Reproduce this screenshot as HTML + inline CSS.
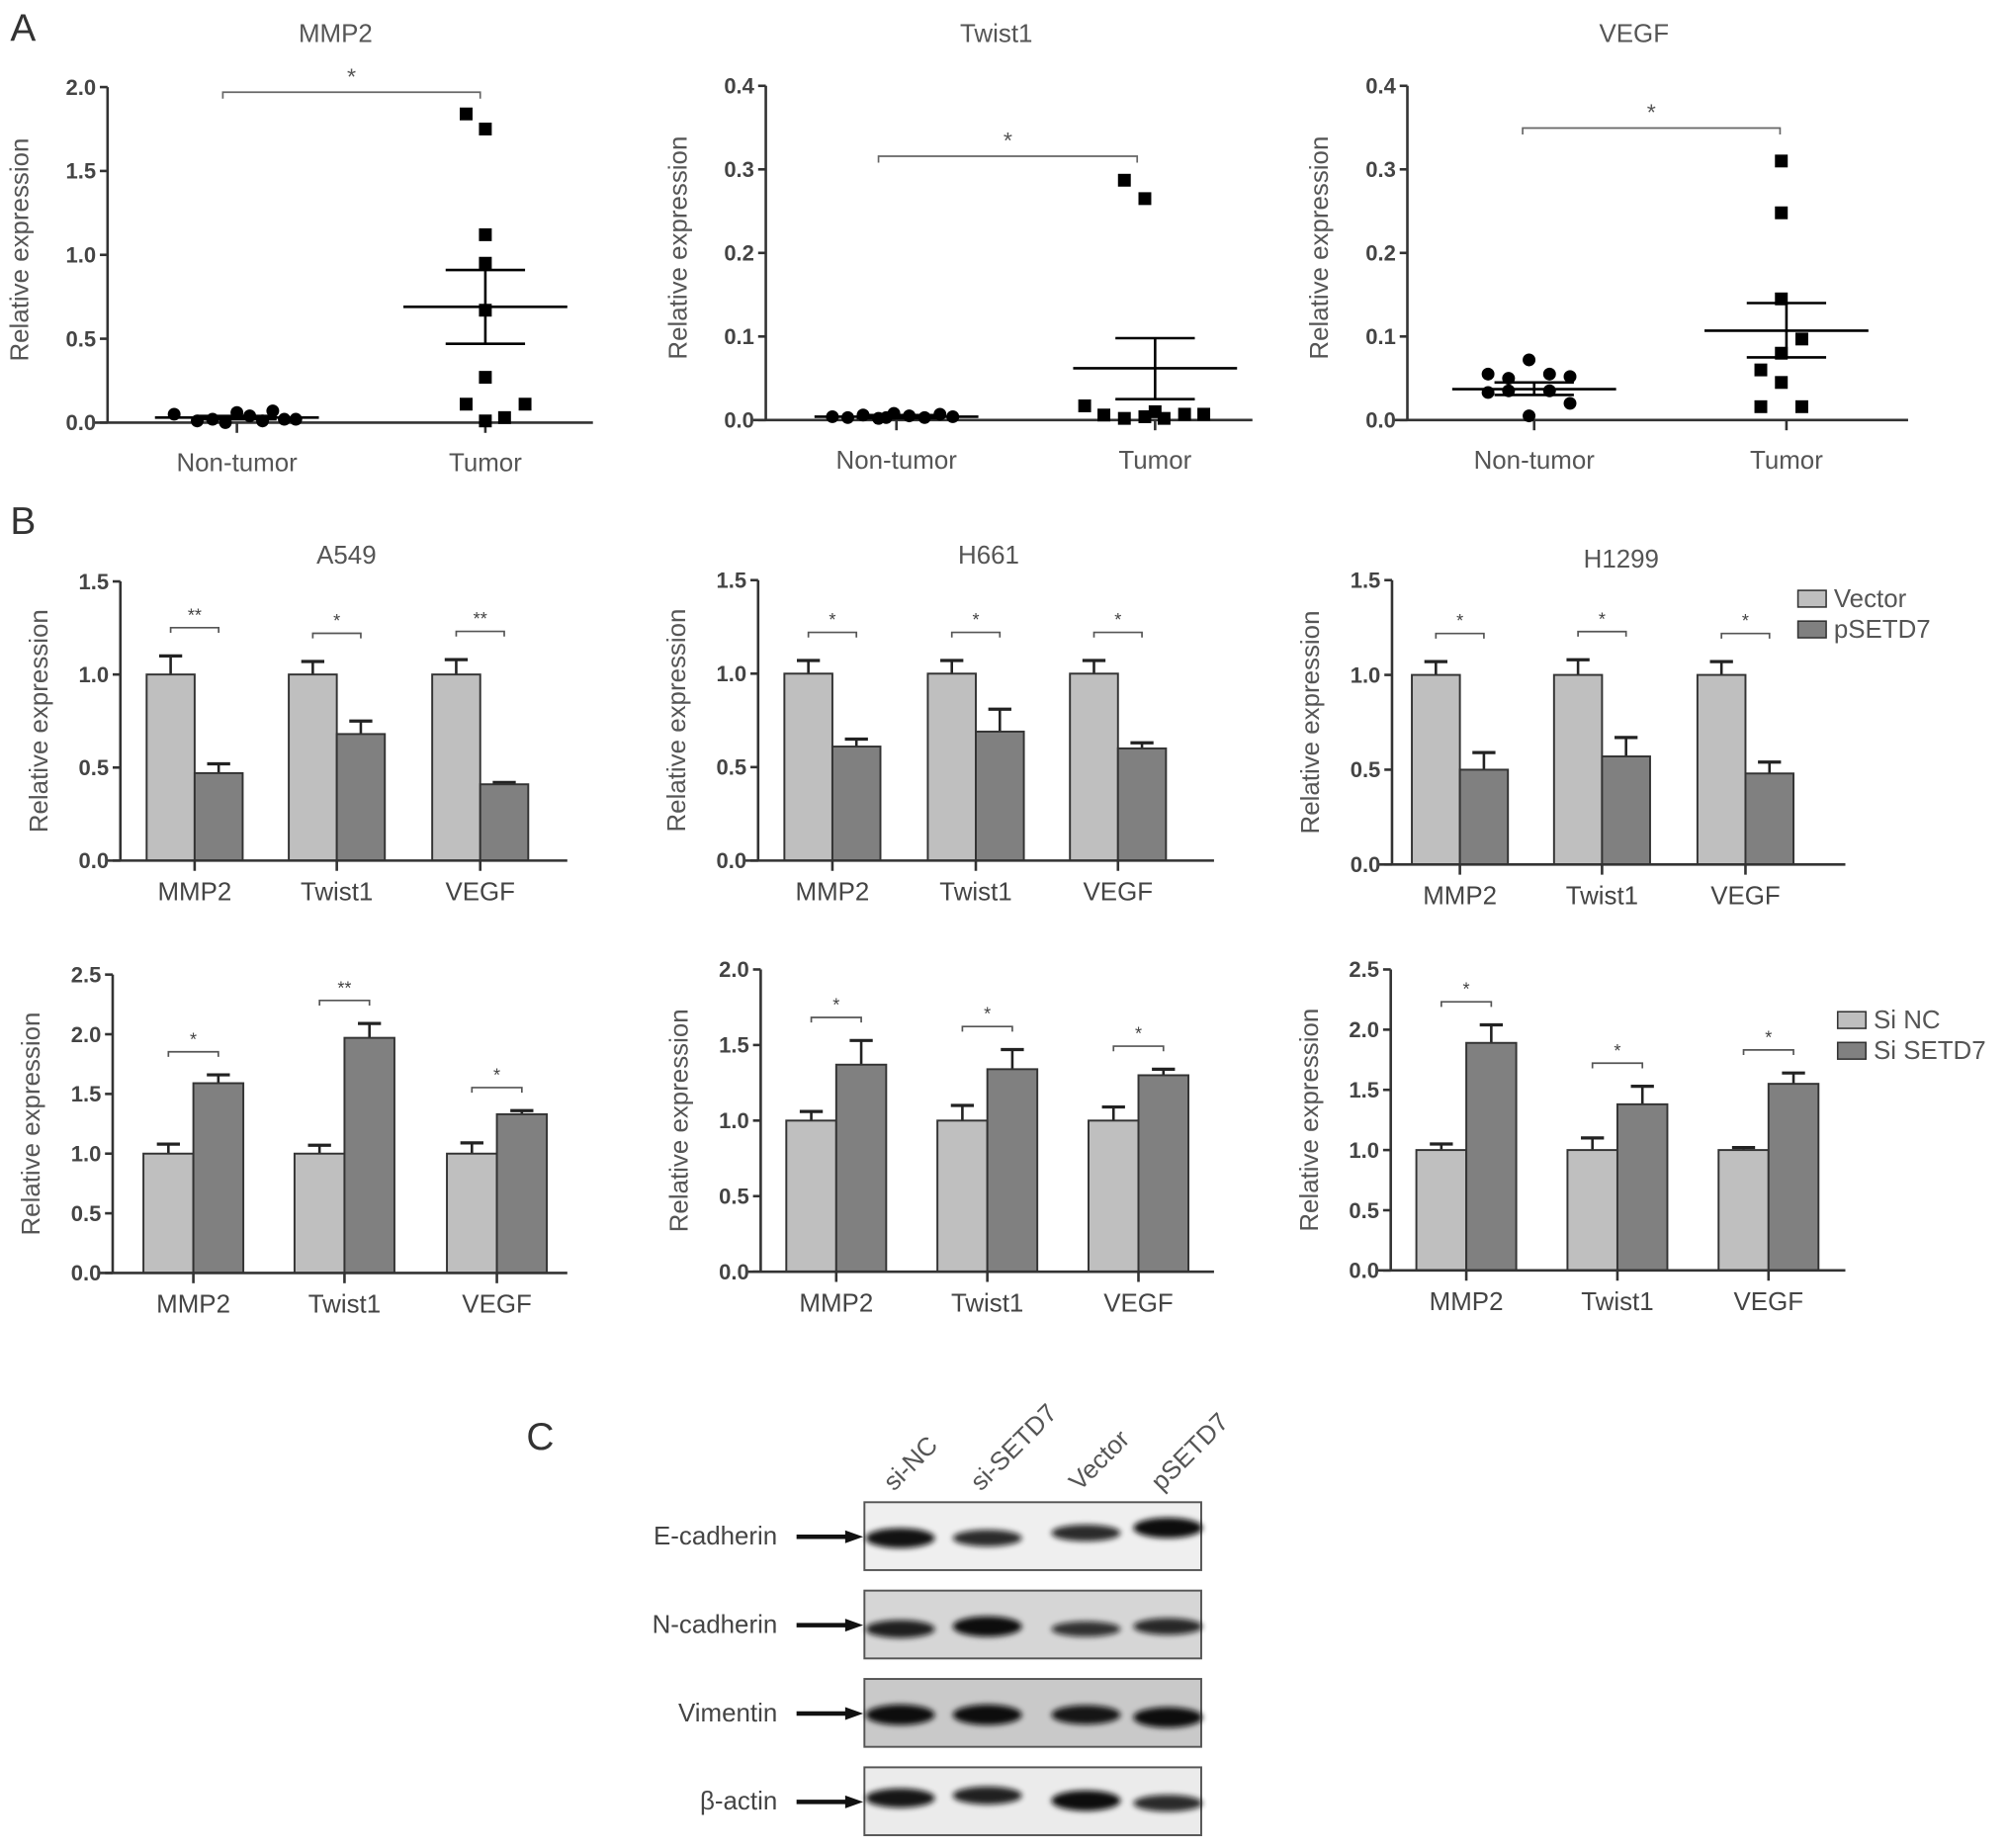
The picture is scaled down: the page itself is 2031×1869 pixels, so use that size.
<!DOCTYPE html>
<html><head><meta charset="utf-8"><style>
html,body{margin:0;padding:0;background:#fff;}
svg{display:block;}
text{font-family:"Liberation Sans",Arial,sans-serif;}
</style></head><body>
<svg id="fig" width="2031" height="1869" viewBox="0 0 1568 1443" preserveAspectRatio="none" xmlns="http://www.w3.org/2000/svg">
<defs><filter id="blur" x="-30%" y="-100%" width="160%" height="300%"><feGaussianBlur stdDeviation="2.2"/></filter></defs>
<text x="8" y="32" font-size="30" fill="#333">A</text>
<text x="8" y="417" font-size="30" fill="#333">B</text>
<text x="411" y="1132" font-size="30" fill="#333">C</text>
<g id="blot"></g>
</svg>
<script>
const NS="http://www.w3.org/2000/svg";
const svg=document.getElementById('fig');
function mk(tag,attrs,parent,txt){const e=document.createElementNS(NS,tag);for(const k in attrs)e.setAttribute(k,attrs[k]);if(txt!==undefined)e.textContent=txt;(parent||svg).appendChild(e);return e;}

// ---------- Panel A data ----------
const aTitles=["MMP2","Twist1","VEGF"];
const aCategories=["Non-tumor","Tumor"];
const aTicks=[["0.0","0.5","1.0","1.5","2.0"],["0.0","0.1","0.2","0.3","0.4"],["0.0","0.1","0.2","0.3","0.4"]];
const aMax=[2.0,0.4,0.4];
const mmp2Normal=[0.05,0.01,0.02,0.0,0.06,0.04,0.01,0.07,0.02,0.02];
const mmp2Tumor=[1.84,1.75,1.12,0.95,0.67,0.27,0.11,0.11,0.03,0.01];
const twistNormal=[0.004,0.003,0.006,0.002,0.008,0.005,0.003,0.007,0.004,0.003];
const twistTumor=[0.287,0.265,0.017,0.006,0.002,0.004,0.002,0.007,0.007,0.01];
const vegfNormal=[0.055,0.05,0.072,0.055,0.052,0.033,0.035,0.035,0.02,0.005];
const vegfTumor=[0.31,0.248,0.145,0.08,0.097,0.06,0.045,0.016,0.016];
const aMeans=[[0.03,0.69],[0.004,0.062],[0.037,0.107]];
const aSemHi=[[0.04,0.91],[0.006,0.098],[0.045,0.14]];
const aSemLo=[[0.02,0.47],[0.002,0.025],[0.03,0.075]];

const aLay=[
 {ax:84,y0:330,y1:68,xe:463,cx:[185,379],tx:262,br:72,bx:[174,375],
  jn:[-49,-31,-19,-9,0,10,20,28,37,46],jt:[-15,0,0,0,0,0,-15,31,15,0]},
 {ax:598,y0:328,y1:67,xe:978,cx:[700,902],tx:778,br:122,bx:[686,888],
  jn:[-50,-38,-26,-14,-2,10,22,34,44,-8],jt:[-24,-8,-55,-40,-24,-8,7,23,38,0]},
 {ax:1099,y0:328,y1:67,xe:1490,cx:[1198,1395],tx:1276,br:100,bx:[1189,1390],
  jn:[-36,-20,-4,12,28,-36,-20,12,28,-4],jt:[-4,-4,-4,-4,12,-20,-4,-20,12]}
];
const aData=[[mmp2Normal,mmp2Tumor],[twistNormal,twistTumor],[vegfNormal,vegfTumor]];

aTitles.forEach((t,i)=>{
  const L=aLay[i];
  const g=mk('g',{});  
  const y=v=>L.y0-(v/aMax[i])*(L.y0-L.y1);
  const tt=mk('text',{x:L.tx,y:33,'font-size':20,'text-anchor':'middle',fill:'#555'},g,t);
   
  const yl=mk('text',{transform:`translate(${L.ax-62},${(L.y0+L.y1)/2-4}) rotate(-90)`,'font-size':20,'text-anchor':'middle',fill:'#555'},g,'Relative expression');
   
  mk('line',{x1:L.ax,y1:L.y1,x2:L.ax,y2:L.y0,stroke:'#333','stroke-width':2},g);
  mk('line',{x1:L.ax-10,y1:L.y0,x2:L.xe,y2:L.y0,stroke:'#333','stroke-width':2},g);
  aTicks[i].forEach((lab,k)=>{const v=aMax[i]*k/(aTicks[i].length-1);
    mk('line',{x1:L.ax-6,y1:y(v),x2:L.ax,y2:y(v),stroke:'#333','stroke-width':2},g);
    const tl=mk('text',{x:L.ax-9,y:y(v)+6,'font-size':17,'font-weight':'bold','text-anchor':'end',fill:'#444'},g,lab);
     });
  aCategories.forEach((c,k)=>{
    mk('line',{x1:L.cx[k],y1:L.y0,x2:L.cx[k],y2:L.y0+8,stroke:'#333','stroke-width':2},g);
    const cl=mk('text',{x:L.cx[k],y:L.y0+38,'font-size':20,'text-anchor':'middle',fill:'#555'},g,c);
     
  });
  mk('path',{d:`M${L.bx[0]},${L.br+5}V${L.br}H${L.bx[1]}V${L.br+5}`,fill:'none',stroke:'#666','stroke-width':1.3},g);
  const st=mk('text',{x:(L.bx[0]+L.bx[1])/2,y:L.br-6,'font-size':18,'text-anchor':'middle',fill:'#555'},g,'*');
   
  aData[i][0].forEach((v,k)=>{const c=mk('circle',{cx:L.cx[0]+L.jn[k],cy:y(v),r:5,fill:'#000'},g);
     });
  aData[i][1].forEach((v,k)=>{const r=mk('rect',{x:L.cx[1]+L.jt[k]-5,y:y(v)-5,width:10,height:10,fill:'#000'},g);
     });
  [0,1].forEach(k=>{const cx=L.cx[k];
    const m=mk('line',{x1:cx-64,y1:y(aMeans[i][k]),x2:cx+64,y2:y(aMeans[i][k]),stroke:'#000','stroke-width':2},g);
     
    mk('line',{x1:cx,y1:y(aSemHi[i][k]),x2:cx,y2:y(aSemLo[i][k]),stroke:'#000','stroke-width':2},g);
    mk('line',{x1:cx-31,y1:y(aSemHi[i][k]),x2:cx+31,y2:y(aSemHi[i][k]),stroke:'#000','stroke-width':2},g);
    mk('line',{x1:cx-31,y1:y(aSemLo[i][k]),x2:cx+31,y2:y(aSemLo[i][k]),stroke:'#000','stroke-width':2},g);
  });
});

// ---------- Panel B data ----------
const bGenes=["MMP2","Twist1","VEGF"];
const bTitles=["A549","H661","H1299","","",""];
const bTicks=[["0.0","0.5","1.0","1.5"],["0.0","0.5","1.0","1.5"],["0.0","0.5","1.0","1.5"],
  ["0.0","0.5","1.0","1.5","2.0","2.5"],["0.0","0.5","1.0","1.5","2.0"],["0.0","0.5","1.0","1.5","2.0","2.5"]];
const bMax=[1.5,1.5,1.5,2.5,2.0,2.5];
const ctrlVals=[[1,1,1],[1,1,1],[1,1,1],[1,1,1],[1,1,1],[1,1,1]];
const ctrlErr=[[0.1,0.07,0.08],[0.07,0.07,0.07],[0.07,0.08,0.07],[0.08,0.07,0.09],[0.06,0.1,0.09],[0.05,0.1,0.02]];
const treatVals=[[0.47,0.68,0.41],[0.61,0.69,0.6],[0.5,0.57,0.48],[1.59,1.97,1.33],[1.37,1.34,1.3],[1.89,1.38,1.55]];
const treatErr=[[0.05,0.07,0.01],[0.04,0.12,0.03],[0.09,0.1,0.06],[0.07,0.12,0.03],[0.16,0.13,0.04],[0.15,0.15,0.09]];
const sigLabels=[["**","*","**"],["*","*","*"],["*","*","*"],["*","**","*"],["*","*","*"],["*","*","*"]];
const legendTop=["Vector","pSETD7"];
const legendBottom=["Si NC","Si SETD7"];

const bLay=[
 {ax:94,y0:672,y1:454,xe:443,c:[152,263,375],bw:37.5,ty:440},
 {ax:592,y0:672,y1:453,xe:948,c:[650,762,873],bw:37.5,ty:440},
 {ax:1087,y0:675,y1:453,xe:1441,c:[1140,1251,1363],bw:37.5,ty:443},
 {ax:88,y0:994,y1:761,xe:443,c:[151,269,388],bw:39},
 {ax:594,y0:993,y1:757,xe:948,c:[653,771,889],bw:39},
 {ax:1086,y0:992,y1:757,xe:1441,c:[1145,1263,1381],bw:39}
];
bLay.forEach((L,i)=>{
  const g=mk('g',{});  
  const y=v=>L.y0-(v/bMax[i])*(L.y0-L.y1);
  if(bTitles[i]){const t=mk('text',{x:(L.ax+L.xe)/2+2,y:L.ty,'font-size':20,'text-anchor':'middle',fill:'#555'},g,bTitles[i]);
     }
  const yl=mk('text',{transform:`translate(${L.ax-57},${(L.y0+L.y1)/2}) rotate(-90)`,'font-size':20,'text-anchor':'middle',fill:'#555'},g,'Relative expression');
   
  bGenes.forEach((gn,k)=>{
    const cx=L.c[k];
    const hC=y(ctrlVals[i][k]), hT=y(treatVals[i][k]);
    mk('line',{x1:cx-L.bw/2,y1:hC,x2:cx-L.bw/2,y2:y(ctrlVals[i][k]+ctrlErr[i][k]),stroke:'#222','stroke-width':2},g);
    mk('line',{x1:cx-L.bw/2-9,y1:y(ctrlVals[i][k]+ctrlErr[i][k]),x2:cx-L.bw/2+9,y2:y(ctrlVals[i][k]+ctrlErr[i][k]),stroke:'#222','stroke-width':2.5},g);
    mk('line',{x1:cx+L.bw/2,y1:hT,x2:cx+L.bw/2,y2:y(treatVals[i][k]+treatErr[i][k]),stroke:'#222','stroke-width':2},g);
    mk('line',{x1:cx+L.bw/2-9,y1:y(treatVals[i][k]+treatErr[i][k]),x2:cx+L.bw/2+9,y2:y(treatVals[i][k]+treatErr[i][k]),stroke:'#222','stroke-width':2.5},g);
    const r1=mk('rect',{x:cx-L.bw,y:hC,width:L.bw,height:L.y0-hC,fill:'#bfbfbf',stroke:'#333','stroke-width':1.5},g);
     
    const r2=mk('rect',{x:cx,y:hT,width:L.bw,height:L.y0-hT,fill:'#808080',stroke:'#333','stroke-width':1.5},g);
     
    const top=Math.max(ctrlVals[i][k]+ctrlErr[i][k],treatVals[i][k]+treatErr[i][k]);
    const by=y(top)-(i<3?22:18);
    mk('path',{d:`M${cx-L.bw/2},${by+4}V${by}H${cx+L.bw/2}V${by+4}`,fill:'none',stroke:'#555','stroke-width':1.3},g);
    const st=mk('text',{x:cx,y:by-5,'font-size':14,'text-anchor':'middle',fill:'#444'},g,sigLabels[i][k]);
     
    mk('line',{x1:cx,y1:L.y0,x2:cx,y2:L.y0+8,stroke:'#333','stroke-width':2},g);
    const xl=mk('text',{x:cx,y:L.y0+31,'font-size':20,'text-anchor':'middle',fill:'#444'},g,gn);
     
  });
  mk('line',{x1:L.ax,y1:L.y1,x2:L.ax,y2:L.y0,stroke:'#333','stroke-width':2},g);
  mk('line',{x1:L.ax-10,y1:L.y0,x2:L.xe,y2:L.y0,stroke:'#333','stroke-width':2},g);
  bTicks[i].forEach((lab,k)=>{const v=bMax[i]*k/(bTicks[i].length-1);
    mk('line',{x1:L.ax-6,y1:y(v),x2:L.ax,y2:y(v),stroke:'#333','stroke-width':2},g);
    const tl=mk('text',{x:L.ax-9,y:y(v)+6,'font-size':17,'font-weight':'bold','text-anchor':'end',fill:'#444'},g,lab);
     });
});
function legend(x,y,labels,name){
  const g=mk('g',{});  
  labels.forEach((l,k)=>{
    mk('rect',{x:x,y:y+k*24,width:22,height:13,fill:k?'#808080':'#bfbfbf',stroke:'#333','stroke-width':1.2},g);
    const t=mk('text',{x:x+28,y:y+k*24+13,'font-size':20,fill:'#555'},g,l);
     
  });
}
legend(1404,461,legendTop,'legend-overexpression');
legend(1435,790,legendBottom,'legend-knockdown');

// ---------- Panel C (western blot) ----------
const lanes=["si-NC","si-SETD7","Vector","pSETD7"];
const proteins=["E-cadherin","N-cadherin","Vimentin","β-actin"];
const bandStrength=[[0.95,0.7,0.7,1.0],[0.8,1.0,0.6,0.7],[1.0,1.0,0.9,1.0],[0.9,0.8,1.0,0.7]];
const blot=document.getElementById('blot');
const laneX=[703,771,848,912];
const boxY=[1173,1242,1311,1380];
const bgs=['#efefef','#d6d6d6','#c9c9c9','#ebebeb'];
const bandDy=[[28,28,24,20],[30,28,30,28],[28,28,28,30],[24,22,26,28]];
lanes.forEach((l,k)=>{const t=mk('text',{transform:`translate(${laneX[k]-5},${1165}) rotate(-45)`,'font-size':20,fill:'#555'},blot,l);
   });
proteins.forEach((p,r)=>{
  const by=boxY[r];
  const t=mk('text',{x:607,y:by+33,'font-size':20,'text-anchor':'end',fill:'#444'},blot,p);
   
  mk('line',{x1:622,y1:by+27,x2:662,y2:by+27,stroke:'#111','stroke-width':3.5},blot);
  mk('path',{d:`M660,${by+22}L674,${by+27}L660,${by+32}Z`,fill:'#111'},blot);
  const b=mk('rect',{x:675,y:by,width:263,height:53,fill:bgs[r],stroke:'#555','stroke-width':1.5},blot);
   
  lanes.forEach((l,k)=>{const s=bandStrength[r][k];
    const e=mk('ellipse',{cx:laneX[k],cy:by+bandDy[r][k],rx:27,ry:3+5*s,fill:'#111',opacity:0.55+0.45*s,filter:'url(#blur)'},blot);
     });
});
</script>
</body></html>
